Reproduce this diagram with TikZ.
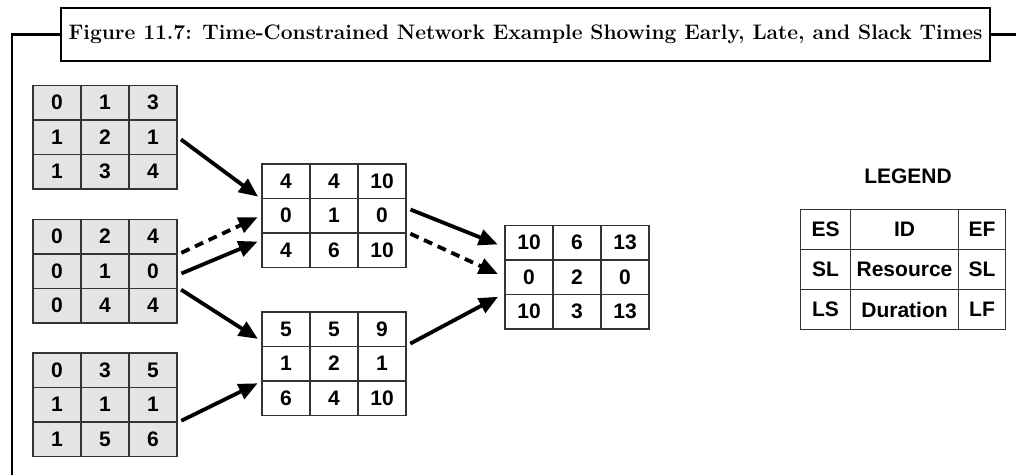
\documentclass[tikz,border=0pt]{standalone}
\usepackage{fontspec}
\newfontfamily\cellfont{Liberation Sans}
\usepackage{xcolor}
\usepackage{tikz}
\usetikzlibrary{matrix,arrows.meta}
\definecolor{figLine}{HTML}{333333}
\definecolor{figShade}{HTML}{E4E4E4}

\begin{document}
\begin{tikzpicture}[
  x=1pt, y=-1pt,
  every node/.style={font=\cellfont\bfseries\fontsize{21}{21}\selectfont},
  cell/.style={draw=figLine, line width=1.5pt, minimum width=48pt,
    minimum height=34.5pt, inner sep=0pt, anchor=center},
  act/.style={matrix of nodes, inner sep=0pt, row sep=-1.5pt,
    column sep=-1.5pt, nodes={cell}},
  startact/.style={act, nodes={fill=figShade}},
  arr/.style={-{Triangle[length=19pt,width=16pt]}, line width=3.8pt,
    shorten <=4pt, shorten >=4pt},
  arrdash/.style={arr, dash pattern=on 9pt off 6pt},
  frame/.style={line width=2.5pt},
]
\fill[white] (0,0) rectangle (1016,475);
\useasboundingbox (0,0) rectangle (1016,475);

% Title and frame
\node[frame, draw, minimum width=929pt, minimum height=53pt, inner sep=0pt,
  font=\rmfamily\bfseries\fontsize{21}{25}\selectfont] (title) at (525.5,34.5)
  {Figure 11.7: Time-Constrained Network Example Showing Early, Late, and Slack Times};
\draw[frame] (title.west) -| (12,475);
\draw[frame] (title.east) -- (1016,34.5);

% Start activities
\matrix[startact] (A) at (105,137) {0 & 1 & 3\\ 1 & 2 & 1\\ 1 & 3 & 4\\};
\matrix[startact] (B) at (105,271) {0 & 2 & 4\\ 0 & 1 & 0\\ 0 & 4 & 4\\};
\matrix[startact] (C) at (105,404.5) {0 & 3 & 5\\ 1 & 1 & 1\\ 1 & 5 & 6\\};

% Middle activities
\matrix[act] (D) at (334,215.5) {4 & 4 & 10\\ 0 & 1 & 0\\ 4 & 6 & 10\\};
\matrix[act] (E) at (334,363.5) {5 & 5 & 9\\ 1 & 2 & 1\\ 6 & 4 & 10\\};

% End activity
\matrix[act] (F) at (577,277) {10 & 6 & 13\\ 0 & 2 & 0\\ 10 & 3 & 13\\};

% Legend
\node (legendhead) at (908,176) {LEGEND};
\matrix[act, nodes={minimum height=40pt},
  column 1/.style={nodes={minimum width=50pt}},
  column 2/.style={nodes={minimum width=108pt}},
  column 3/.style={nodes={minimum width=47pt}}] (legend) at (903,269.5)
  {ES & ID & EF\\ SL & Resource & SL\\ LS & Duration & LF\\};

% Arrows
\draw[arr] (A-2-3.east) -- (D-1-1.south west);
\draw[arrdash] (B-1-3.south east) -- (D-2-1.west);
\draw[arr] ([yshift=-4pt]B-2-3.east) -- ([yshift=-8pt]D-3-1.north west);
\draw[arr] (B-3-3.north east) -- ([yshift=6pt]E-1-1.south west);
\draw[arr] (C-2-3.south east) -- (E-2-1.south west);
\draw[arr, shorten >=7pt] ([yshift=-9pt]D-1-3.south east) -- ([yshift=12pt]F-2-1.north west);
\draw[arrdash, shorten >=7pt] (D-3-3.north east) -- (F-2-1.west);
\draw[arr, shorten >=7pt] (E-2-3.north east) -- (F-3-1.north west);

\end{tikzpicture}
\end{document}
